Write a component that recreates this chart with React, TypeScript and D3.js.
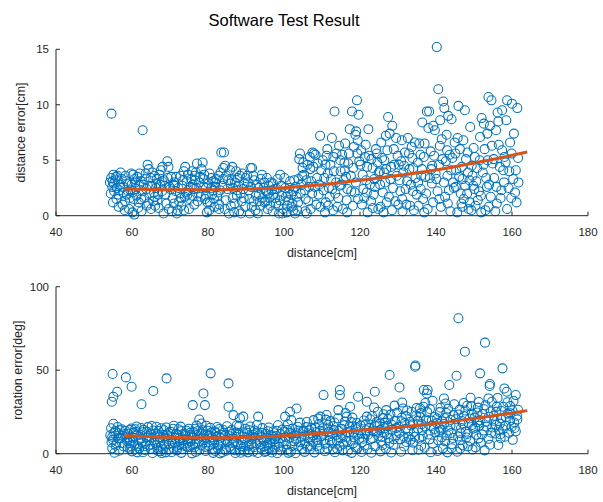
import React from "react";
import * as d3 from "d3";

// distance [cm] vs. distance error [cm]
const distErrPoints: [number, number][] = [
  [54.6,9.2],[54.5,3.4],[55.1,3.7],[54.2,3.0],[54.8,2.6],[55.3,2.2],[54.4,2.0],[55.6,3.2],[56.2,3.6],[56.9,2.8],[55.9,1.5],[56.5,0.8],[57.3,3.3],[57.8,2.1],[55.0,1.2],[56.0,2.5],[57.5,1.0],[54.9,3.1],
  [55.2,2.9],[55.8,3.5],[56.4,1.9],[57.0,3.9],[57.7,2.6],[58.5,3.1],[59.0,2.2],[59.9,2.8],[58.2,1.3],[56.7,2.3],
  [58.3,3.6],[58.9,2.9],[59.4,1.6],[59.8,3.8],[60.3,3.7],[60.1,0.3],[60.6,0.1],[59.2,0.6],[61.0,2.4],[61.4,3.5],[61.8,1.2],[58.6,1.9],[60.9,3.0],[59.6,2.3],[61.6,0.7],[58.1,0.5],[60.4,1.5],
  [60.7,3.3],[61.2,1.8],[61.9,2.8],[62.4,1.5],[63.3,3.3],[63.8,2.4],[64.3,1.1],[64.8,2.7],[62.0,3.8],[60.2,2.1],
  [62.8,7.7],[62.3,3.1],[62.7,2.2],[63.2,1.6],[63.6,3.8],[64.1,4.6],[64.4,4.2],[64.9,3.4],[63.9,0.9],[65.3,2.7],[65.6,1.3],[62.5,0.4],[64.6,2.0],[65.9,3.6],[63.0,2.8],[65.0,0.6],
  [65.4,3.9],[65.8,2.1],[66.4,2.9],[66.9,1.9],[67.4,2.8],[67.9,3.1],[68.6,2.7],[69.4,3.4],[69.7,0.6],[66.0,1.7],
  [66.3,2.5],[66.7,1.4],[67.2,3.7],[67.6,4.1],[68.0,4.4],[68.4,3.2],[68.8,1.9],[69.3,4.9],[69.6,4.4],[69.9,2.6],[67.0,0.7],[68.3,0.2],[66.5,3.3],[69.1,1.1],[67.9,2.2],[66.1,0.9],
  [70.1,2.4],[70.9,2.8],[71.6,3.5],[72.2,2.5],[72.9,1.6],[73.4,3.2],[74.2,2.1],[74.7,3.7],[71.0,1.1],[73.7,0.5],
  [70.3,3.5],[70.7,1.6],[71.1,3.0],[71.5,2.2],[72.0,0.5],[72.4,1.3],[72.8,3.6],[73.2,2.7],[73.6,4.0],[74.0,4.4],[71.8,0.2],[73.0,0.9],[70.5,0.4],[72.6,2.0],[73.9,1.7],[71.3,2.7],
  [75.4,2.6],[75.9,1.8],[76.5,3.6],[77.0,2.5],[77.7,3.0],[78.1,1.7],[78.9,3.3],[79.5,2.5],[79.9,1.2],[75.8,4.0],
  [74.4,3.1],[74.8,2.3],[75.2,1.5],[75.6,3.3],[76.0,2.8],[76.4,1.0],[76.8,3.9],[77.1,4.7],[77.5,2.0],[77.9,3.5],[75.0,0.6],[76.3,2.4],[77.3,1.3],[74.6,1.9],[76.6,3.2],
  [78.3,4.2],[78.6,4.8],[79.0,3.7],[79.4,1.8],[79.7,0.3],[80.1,2.9],[80.5,1.2],[80.9,3.4],[81.3,2.3],[81.7,0.8],[78.8,2.6],[80.3,0.5],[81.9,3.0],[79.2,1.5],[81.1,1.9],
  [80.4,3.8],[80.8,2.5],[81.4,3.1],[82.0,2.6],[82.8,3.6],[83.2,2.3],[84.0,3.3],[84.4,0.6],[85.3,3.2],[81.6,1.5],
  [82.2,3.3],[82.6,2.1],[83.0,1.0],[83.5,5.7],[84.2,5.7],[84.0,4.3],[84.5,4.5],[84.8,3.6],[85.1,2.4],[85.5,0.2],[83.3,3.9],[82.9,0.6],[85.8,4.1],[84.7,1.4],[83.8,2.7],[82.4,1.8],
  [85.9,2.9],[86.5,1.6],[87.1,3.0],[87.7,2.3],[88.4,3.6],[88.9,1.3],[89.3,2.4],[89.9,3.4],[86.0,0.9],[88.7,0.2],
  [86.2,3.2],[86.6,2.5],[87.0,1.1],[87.4,4.0],[87.8,3.4],[88.2,0.4],[88.6,2.0],[89.0,3.8],[89.4,1.6],[89.8,0.8],[86.9,0.3],[88.0,2.7],[86.4,4.4],[89.6,2.9],[87.6,1.8],
  [90.5,3.0],[91.3,2.6],[91.9,3.6],[92.6,1.8],[93.3,2.5],[93.9,3.3],[94.4,1.6],[94.8,3.0],[91.5,0.8],[93.6,1.3],
  [90.3,3.6],[90.7,2.3],[91.2,4.3],[91.6,4.3],[92.0,1.3],[92.5,0.5],[92.9,2.8],[93.4,1.9],[93.8,0.9],[94.2,3.7],[94.6,2.5],[91.0,0.2],[92.2,3.2],[93.1,0.2],[94.9,1.2],[90.9,1.5],
  [95.1,1.3],[95.9,2.0],[96.4,0.9],[97.1,2.9],[97.7,1.6],[98.1,2.4],[98.9,1.4],[99.3,2.7],[99.6,0.2],[96.8,2.3],
  [95.3,2.2],[95.7,0.6],[96.2,1.6],[96.6,3.0],[97.0,0.4],[97.5,2.4],[97.9,1.1],[98.3,3.3],[98.7,0.2],[99.0,3.7],[99.4,1.8],[96.0,2.7],[97.2,1.9],[98.5,0.9],[99.8,0.6],[95.5,3.4],
  [100.5,1.7],[101.4,2.5],[101.9,1.9],[102.7,3.2],[103.0,2.6],[103.7,1.2],[104.4,2.0],[104.8,3.6],[100.1,3.4],[102.4,0.5],
  [100.3,2.5],[100.7,0.3],[101.2,1.4],[101.6,3.1],[102.0,0.8],[102.5,2.2],[102.9,0.2],[103.3,1.7],[103.8,3.3],[104.2,5.6],[104.0,5.1],[104.6,2.8],[101.0,2.0],[102.2,1.1],[103.5,0.5],[104.9,4.3],[100.9,0.9],
  [105.1,4.8],[105.9,3.2],[106.4,1.3],[107.4,2.0],[107.7,4.4],[108.1,2.6],[108.9,4.7],[109.6,0.8],[106.8,5.3],[105.6,0.4],
  [105.3,3.7],[105.7,1.5],[106.2,4.6],[106.6,2.6],[107.0,0.6],[107.5,5.7],[107.9,5.6],[108.3,5.5],[108.7,3.4],[109.1,1.9],[109.5,7.2],[109.8,4.1],[106.0,0.2],[107.2,3.1],[108.5,1.0],[105.5,2.3],[109.3,2.8],[106.9,4.2],
  [110.4,2.3],[110.9,4.6],[111.6,0.9],[112.4,3.3],[113.1,4.0],[113.8,5.6],[114.3,1.6],[114.8,5.0],[111.2,5.4],[112.7,2.4],
  [110.2,5.0],[110.6,3.4],[111.0,1.2],[111.4,6.0],[111.8,2.5],[112.2,4.6],[112.6,7.0],[113.0,5.3],[113.3,9.4],[113.7,3.0],[114.1,0.8],[114.5,6.3],[114.9,4.0],[110.8,0.3],[112.0,1.7],[113.5,2.0],[111.5,3.8],[114.7,2.7],[112.9,0.5],
  [115.1,2.8],[115.9,4.8],[116.3,3.5],[117.1,5.6],[117.7,2.2],[118.2,4.3],[118.9,3.0],[119.5,1.5],[116.6,0.3],[119.3,5.6],
  [115.3,5.5],[115.7,3.2],[116.1,6.5],[116.5,1.4],[116.9,4.7],[117.3,7.8],[117.9,9.4],[118.4,6.2],[118.8,7.3],[119.2,10.4],[119.6,9.1],[119.0,7.6],[119.4,6.8],[115.5,0.6],[116.7,2.4],[117.6,3.6],[118.1,0.9],[119.8,4.9],[116.0,4.1],[118.6,2.1],
  [120.1,4.6],[120.5,1.0],[121.6,3.2],[122.4,5.4],[122.9,1.3],[123.3,4.3],[123.9,2.6],[124.4,5.6],[121.8,2.1],[124.8,0.6],
  [120.3,5.9],[120.7,3.7],[121.1,1.6],[121.5,6.4],[121.9,4.4],[122.2,7.8],[122.6,2.8],[123.0,5.1],[123.4,0.7],[123.8,3.3],[124.2,6.0],[124.6,4.8],[120.9,2.4],[122.0,0.3],[123.6,1.9],[124.9,3.9],[121.3,5.3],
  [125.3,2.8],[125.8,5.2],[126.3,3.9],[127.0,1.2],[127.2,5.9],[128.0,3.3],[128.4,0.5],[129.0,4.6],[129.5,7.0],[126.9,4.2],
  [125.2,4.0],[125.6,6.6],[126.0,2.1],[126.4,5.0],[126.8,7.2],[127.4,8.9],[127.8,7.4],[128.2,4.4],[128.5,8.1],[128.9,6.0],[129.3,1.3],[129.7,3.6],[125.4,0.8],[126.6,3.0],[127.6,1.7],[128.7,2.5],[129.9,5.4],[126.2,0.3],
  [130.4,3.2],[131.1,1.5],[131.6,4.5],[132.0,2.4],[132.9,5.6],[133.2,0.9],[134.0,4.3],[134.4,6.6],[130.1,1.0],[133.9,2.2],
  [130.2,4.6],[130.6,2.2],[131.0,6.8],[131.4,3.9],[131.8,5.7],[132.2,1.0],[132.6,7.0],[133.0,4.2],[133.4,2.8],[133.8,5.2],[134.2,0.5],[134.6,3.4],[131.2,0.4],[132.4,3.1],[133.6,6.2],[134.9,1.9],[130.8,4.9],
  [135.3,3.0],[135.9,5.5],[136.3,4.2],[137.0,6.5],[137.4,2.0],[138.4,3.4],[138.8,4.2],[139.2,1.2],[139.9,3.8],[136.9,0.3],
  [135.2,4.8],[135.6,6.5],[136.0,2.4],[136.4,8.4],[136.8,5.3],[137.2,3.5],[137.6,9.4],[138.0,7.9],[138.2,9.4],[138.6,5.8],[139.0,4.5],[139.3,8.1],[139.7,7.7],[135.4,0.9],[136.6,1.5],[137.8,0.6],[138.9,2.9],[139.5,5.4],[136.1,3.6],
  [140.1,3.3],[140.9,1.5],[141.7,5.1],[142.1,3.0],[142.8,7.3],[143.4,2.3],[144.0,4.1],[144.3,5.2],[141.1,8.6],[143.1,1.1],
  [140.2,15.2],[140.6,11.4],[141.0,6.3],[141.5,6.9],[141.9,10.3],[142.2,9.7],[142.6,4.9],[143.0,3.6],[143.2,9.0],[143.6,5.5],[144.1,8.7],[144.5,3.0],[144.9,6.6],[140.4,2.2],[141.3,0.8],[142.4,1.7],[143.8,0.4],[144.7,2.5],[140.8,4.6],[142.9,5.9],
  [145.2,2.6],[145.7,7.0],[146.1,3.5],[146.8,4.4],[147.2,6.8],[147.7,2.7],[148.3,5.7],[148.8,3.2],[149.3,0.5],[149.9,6.1],
  [145.3,4.1],[145.9,9.9],[146.3,6.0],[146.7,1.1],[147.0,3.3],[147.6,9.5],[147.9,5.1],[148.2,2.0],[148.6,0.6],[149.0,8.0],[149.4,4.5],[149.8,2.7],[145.6,0.3],[146.5,2.0],[147.3,1.5],[148.9,1.2],[149.6,3.6],[145.1,5.6],[146.9,0.8],[148.4,3.9],
  [150.1,2.4],[150.8,4.3],[151.5,5.0],[151.8,1.8],[152.5,4.6],[153.2,3.4],[153.5,7.4],[154.0,2.8],[154.7,6.3],[153.9,0.8],
  [150.2,5.3],[150.6,3.1],[151.0,1.4],[151.6,7.1],[152.0,8.8],[152.3,3.9],[152.6,8.3],[153.0,0.5],[153.4,2.6],[153.8,10.7],[154.2,8.1],[154.6,10.4],[154.9,4.7],[150.4,0.9],[151.3,2.2],[152.8,6.0],[153.6,5.0],[154.4,1.7],[151.9,0.3],
  [155.2,5.1],[155.9,2.6],[156.5,6.4],[157.0,1.6],[157.7,4.1],[158.5,8.6],[159.3,4.0],[159.9,5.6],[160.5,7.4],[161.2,1.2],[161.6,5.2],[156.2,9.3],
  [155.3,3.4],[155.8,7.7],[156.4,8.5],[156.8,4.4],[157.2,2.3],[157.4,9.5],[157.4,5.9],[157.9,3.0],[158.3,4.8],[158.7,10.4],[158.7,0.6],[159.1,2.5],[159.5,6.6],[160.0,10.1],[160.3,3.3],[160.8,2.1],[161.4,9.7],[161.7,3.0],[156.0,1.1],[158.0,5.3],[159.8,1.6],[155.6,0.4],[161.0,4.1],
];

// distance [cm] vs. rotation error [deg]
const rotErrPoints: [number, number][] = [
  [54.9,47.7],[56.1,37.1],[55.1,34.1],[54.7,31.1],[55.1,17.9],[54.5,15.2],[55.6,13.5],[54.3,11.0],[55.0,8.4],[55.9,6.1],[54.8,3.2],[55.4,0.6],[56.4,12.2],[56.9,9.3],[57.3,14.6],[57.8,4.4],[56.6,1.8],[57.6,10.7],[54.6,6.9],[56.2,16.0],
  [54.8,10.1],[55.3,12.4],[55.7,4.8],[56.3,9.2],[56.8,14.0],[57.4,6.3],[58.0,11.6],[58.8,9.9],[59.4,14.2],[59.7,4.6],
  [58.4,45.7],[59.9,40.1],[58.2,13.8],[58.7,7.5],[59.1,11.9],[59.5,2.9],[59.8,15.1],[60.2,9.6],[60.6,5.3],[61.0,13.0],[61.4,0.8],[61.8,8.2],[58.9,3.7],[60.4,12.6],[61.2,16.3],[59.3,6.4],[61.6,4.5],[60.0,1.4],
  [60.3,7.1],[60.8,14.7],[61.3,10.9],[61.9,3.2],[62.3,9.0],[62.8,12.8],[63.3,4.5],[63.9,13.1],[64.5,7.9],[65.1,9.5],
  [62.5,29.6],[65.6,37.6],[62.2,11.4],[62.6,6.8],[63.0,14.3],[63.4,2.2],[63.8,9.7],[64.2,15.9],[64.6,4.9],[65.0,12.1],[65.4,0.4],[65.8,7.6],[62.9,0.9],[63.6,5.8],[64.4,10.5],[65.2,16.6],[62.4,15.4],[64.9,2.9],
  [65.6,13.9],[66.1,6.5],[66.7,11.9],[67.2,9.8],[67.7,15.2],[68.1,3.0],[68.7,9.5],[69.2,11.5],[69.7,5.8],[67.5,1.4],
  [69.1,45.1],[66.2,10.3],[66.6,3.5],[67.0,13.6],[67.4,7.1],[67.8,0.3],[68.2,11.2],[68.6,5.4],[69.0,15.7],[69.4,8.8],[69.8,2.6],[66.4,16.1],[67.6,4.2],[68.4,14.0],[69.6,12.4],[66.9,1.5],[68.9,0.8],
  [70.3,9.8],[70.8,14.9],[71.3,6.3],[71.9,11.2],[72.5,9.3],[73.1,13.6],[73.5,6.1],[74.1,11.7],[74.5,8.3],[72.0,3.7],
  [70.2,13.1],[70.6,6.2],[71.0,16.7],[71.4,9.4],[71.8,2.0],[72.2,14.6],[72.6,7.9],[73.0,0.5],[73.4,11.8],[73.8,4.6],[70.4,0.9],[71.6,12.0],[72.8,16.2],[73.6,8.5],[70.9,3.4],[72.4,5.1],[73.2,2.8],
  [75.3,12.6],[75.9,9.6],[76.4,3.8],[77.1,11.1],[77.6,6.6],[78.2,12.0],[78.7,9.7],[79.3,4.1],[79.9,13.8],[76.7,15.0],
  [76.0,29.1],[77.7,20.5],[74.2,10.6],[74.6,3.9],[75.0,15.0],[75.4,7.3],[75.8,0.2],[76.2,12.9],[76.6,5.7],[77.0,16.8],[77.4,9.0],[77.8,2.4],[74.4,13.7],[75.6,11.0],[76.8,1.1],[77.2,13.5],[74.8,6.6],[75.2,4.1],
  [80.3,10.6],[80.9,12.7],[81.5,8.6],[82.1,12.4],[82.7,5.4],[83.3,9.5],[83.9,14.3],[84.5,10.9],[85.1,7.2],[81.9,1.6],
  [80.7,48.1],[78.8,36.1],[79.2,29.1],[78.3,18.1],[78.6,14.1],[79.0,8.0],[79.4,1.6],[79.8,11.5],[80.2,4.8],[80.6,15.5],[81.0,9.9],[81.4,0.5],[81.8,13.3],[78.4,5.2],[79.6,16.7],[80.4,7.0],[81.2,3.0],[78.9,11.0],[81.6,6.3],
  [85.7,10.4],[86.3,11.8],[86.9,7.0],[87.5,10.0],[88.1,12.4],[88.7,4.5],[89.2,12.9],[89.7,8.4],[86.1,2.9],[88.3,1.9],
  [85.4,42.1],[85.4,28.1],[82.2,10.2],[82.6,3.3],[83.0,14.8],[83.4,6.7],[83.8,0.9],[84.2,12.5],[84.6,8.3],[85.0,16.4],[85.8,4.0],[82.4,16.0],[83.6,11.4],[84.8,1.8],[85.6,13.1],[82.9,7.8],[84.4,2.7],[83.2,0.2],
  [90.4,9.7],[90.9,14.1],[91.4,5.8],[91.9,11.4],[92.5,9.6],[93.0,12.7],[93.7,7.0],[94.2,12.6],[94.8,4.4],[92.1,3.9],
  [86.7,23.1],[88.4,21.2],[89.3,22.2],[86.2,14.2],[86.6,9.1],[87.0,2.1],[87.4,12.7],[87.8,5.8],[88.2,16.5],[88.6,0.6],[89.0,10.3],[89.4,4.1],[89.8,15.0],[86.4,6.4],[87.6,17.0],[88.8,8.1],[89.6,1.7],[87.2,0.4],
  [95.3,9.6],[95.8,13.4],[96.3,6.5],[96.9,10.3],[97.5,8.7],[98.1,13.8],[98.6,4.2],[99.1,11.8],[99.7,7.5],[97.0,2.2],
  [93.2,22.2],[90.3,12.6],[90.7,4.7],[91.1,16.3],[91.5,8.6],[91.9,1.3],[92.3,13.9],[92.7,6.2],[93.1,0.4],[93.5,11.1],[93.9,3.5],[94.3,15.3],[94.7,7.7],[90.5,0.8],[91.7,10.2],[92.9,17.3],[94.1,9.8],[90.9,2.4],[94.9,1.1],
  [95.2,12.0],[95.6,5.1],[96.0,15.7],[96.4,8.9],[96.8,0.7],[97.2,13.4],[97.6,3.7],[98.0,10.6],[98.4,17.0],[98.8,6.3],[99.2,1.9],[99.6,14.5],[95.4,1.5],[96.6,11.2],[97.8,7.2],[99.0,9.2],[98.2,0.3],[95.9,3.2],
  [100.4,9.9],[100.9,14.2],[101.5,12.5],[102.1,4.5],[102.7,10.8],[103.2,8.5],[103.8,13.9],[104.3,6.8],[104.9,13.2],[101.9,20.1],
  [100.3,22.2],[101.6,25.1],[103.3,27.1],[100.2,13.0],[100.6,5.6],[101.0,17.6],[101.4,9.5],[101.8,1.2],[102.2,14.9],[102.6,7.4],[103.0,0.3],[103.4,12.2],[103.8,4.3],[104.2,18.6],[104.6,10.1],[100.8,2.3],[102.0,11.6],[103.6,16.1],[104.8,2.9],[101.2,0.5],
  [105.3,10.3],[105.9,15.9],[106.5,12.1],[107.1,4.6],[107.7,11.0],[108.3,15.6],[108.9,6.7],[109.5,13.7],[106.9,8.8],[109.0,21.0],
  [109.6,22.2],[105.2,13.6],[105.6,6.1],[106.0,19.0],[106.4,9.8],[106.8,2.7],[107.2,15.5],[107.6,7.0],[108.0,0.8],[108.4,12.8],[108.8,4.6],[109.2,17.8],[109.8,10.4],[105.4,1.1],[106.6,14.0],[107.8,20.1],[108.6,8.3],[109.4,3.0],[106.2,4.2],
  [110.3,11.9],[110.9,5.9],[111.5,14.6],[112.1,8.0],[112.7,12.2],[113.3,18.7],[113.9,7.8],[114.5,13.6],[111.2,23.2],[114.0,2.9],
  [110.4,35.1],[114.7,38.1],[114.7,35.1],[114.3,26.1],[110.2,15.2],[110.6,8.2],[111.0,20.4],[111.4,3.3],[111.8,13.1],[112.2,19.5],[112.6,6.5],[113.0,16.4],[113.4,0.9],[113.8,11.3],[114.2,21.2],[114.6,4.8],[110.8,1.5],[112.0,10.5],[113.2,14.2],[111.6,17.3],[112.9,2.6],[114.9,9.2],
  [115.3,11.1],[115.9,17.0],[116.5,7.6],[117.1,12.9],[117.7,18.9],[118.3,9.8],[118.9,15.9],[119.5,11.8],[116.2,24.3],[119.3,3.3],
  [117.4,28.1],[116.5,22.2],[119.5,34.1],[115.2,14.9],[115.6,5.7],[116.0,19.2],[116.4,10.0],[116.8,1.6],[117.2,16.2],[117.6,7.8],[118.0,21.6],[118.4,12.4],[118.8,3.9],[119.2,18.4],[119.8,9.0],[115.4,2.0],[116.6,13.0],[117.8,0.5],[119.0,14.7],[118.2,6.2],
  [120.3,12.3],[120.9,9.0],[121.5,17.6],[122.1,11.4],[122.7,20.6],[123.3,9.3],[123.9,16.9],[124.5,13.1],[121.2,4.9],[123.7,27.7],
  [123.9,37.1],[121.8,31.1],[121.8,22.2],[124.7,25.1],[120.2,16.8],[120.6,6.9],[121.0,19.9],[121.4,11.6],[122.0,2.8],[122.4,15.3],[122.8,8.7],[123.2,22.6],[123.6,13.4],[124.0,4.4],[124.4,19.0],[124.8,10.5],[120.4,1.0],[121.6,14.1],[123.0,0.6],[124.6,16.4],
  [125.3,14.2],[125.9,5.1],[126.5,18.6],[127.1,12.0],[127.7,6.4],[128.3,17.5],[128.9,8.6],[129.5,15.3],[126.2,23.6],[129.1,28.8],
  [127.8,47.1],[126.9,26.1],[125.2,18.0],[125.6,7.5],[126.0,21.3],[126.4,12.6],[126.8,3.0],[127.2,16.5],[127.6,9.3],[128.0,23.4],[128.4,14.3],[128.8,5.2],[129.2,19.7],[129.6,11.0],[125.4,1.4],[126.6,15.2],[128.2,0.7],[129.8,24.6],[127.4,20.8],[125.9,10.0],
  [130.3,12.4],[130.9,19.4],[131.5,10.3],[132.1,22.5],[132.7,13.8],[133.3,8.3],[133.9,17.6],[134.5,10.1],[131.1,30.6],[134.9,27.4],
  [130.4,39.7],[134.6,52.8],[131.3,27.1],[133.6,25.1],[134.5,52.1],[130.2,16.1],[130.6,8.6],[131.0,21.5],[131.6,4.3],[132.0,14.8],[132.4,25.9],[132.8,10.1],[133.2,19.0],[133.8,2.1],[134.2,13.0],[134.8,22.9],[130.8,1.2],[132.2,7.0],[133.4,16.9],[131.8,18.4],[134.0,6.6],
  [135.3,14.9],[135.9,21.8],[136.5,10.5],[137.1,16.3],[137.7,24.9],[138.3,8.6],[138.9,19.8],[139.5,14.7],[136.1,4.8],[139.1,31.7],
  [136.8,38.1],[137.8,38.1],[137.6,36.1],[136.7,28.1],[135.2,19.8],[135.6,9.0],[136.0,24.3],[136.4,14.0],[137.0,3.6],[137.4,20.5],[138.0,11.5],[138.4,26.8],[138.8,16.6],[139.2,6.1],[139.6,22.0],[135.4,2.4],[136.2,17.7],[137.2,30.3],[138.6,0.9],[139.8,12.7],[135.8,27.2],
  [140.3,21.1],[140.9,15.5],[141.5,9.8],[142.1,17.8],[142.7,24.4],[143.3,13.9],[143.9,20.2],[144.5,9.4],[141.2,27.5],[144.1,3.3],
  [142.1,33.1],[142.5,30.1],[143.5,41.1],[140.2,18.3],[140.6,8.0],[141.0,24.9],[141.4,14.1],[141.8,3.2],[142.2,21.4],[142.8,11.0],[143.2,27.0],[143.8,16.7],[144.2,5.8],[144.6,23.1],[140.4,1.6],[141.6,19.3],[143.0,0.8],[144.0,12.4],[144.8,29.6],[140.8,12.9],[142.4,7.4],
  [145.3,16.9],[145.9,23.5],[146.5,12.2],[147.1,18.0],[147.7,25.9],[148.3,11.8],[148.9,21.1],[149.5,17.2],[146.3,8.1],[149.2,28.5],
  [145.9,81.1],[147.6,61.1],[145.4,46.7],[149.1,33.5],[147.3,30.3],[145.6,1.2],[145.2,20.6],[145.8,10.3],[146.2,26.4],[146.6,15.4],[147.0,5.0],[147.4,22.5],[147.8,13.2],[148.2,28.7],[148.6,18.2],[149.0,7.6],[149.4,24.0],[149.8,14.9],[146.4,3.1],[148.0,9.7],[149.6,2.6],[146.8,19.6],[148.4,4.4],
  [150.3,15.6],[150.9,24.7],[151.5,20.0],[152.1,11.5],[152.7,26.6],[153.3,16.2],[153.9,22.1],[154.5,12.6],[151.3,31.0],[154.2,5.4],
  [152.9,66.5],[151.6,48.1],[154.1,40.5],[154.2,41.7],[153.8,33.1],[154.7,31.1],[150.2,21.6],[150.6,11.3],[151.0,27.6],[151.4,16.8],[151.8,6.6],[152.2,23.8],[152.6,13.9],[153.0,29.0],[153.4,19.3],[153.8,8.9],[154.4,25.3],[150.4,3.8],[151.2,9.2],[152.8,2.0],[154.8,15.7],[150.8,18.8],
  [155.3,19.7],[155.9,25.2],[156.5,14.3],[157.1,21.2],[157.7,28.1],[158.3,16.8],[158.9,23.9],[159.5,19.7],[160.1,25.9],[160.7,15.4],[161.3,22.7],[156.9,11.7],
  [157.5,51.1],[158.0,39.1],[158.6,37.1],[161.0,35.1],[159.5,28.5],[161.4,20.5],[159.9,16.1],[158.1,10.2],[156.4,5.2],[155.2,22.7],[155.6,12.1],[156.0,28.2],[156.8,18.0],[157.2,25.6],[157.6,14.6],[158.4,21.9],[158.8,30.8],[159.2,12.5],[159.6,24.2],[160.2,8.3],[160.6,18.7],[161.0,13.4],[161.6,26.3],[155.8,17.2],[157.0,9.3],[160.4,31.6],[156.2,33.4],
];

// fitted trend curves (distance, error)
const distErrFit: [number, number][] = [
  [58,2.40],[70,2.33],[80,2.33],[90,2.40],[100,2.52],[110,2.78],[120,3.2],[130,3.62],[140,4.12],[150,4.75],[160,5.45],[164,5.75],
];
const rotErrFit: [number, number][] = [
  [58,10.8],[70,9.8],[80,9.5],[90,9.8],[100,10.8],[110,12.2],[120,14],[130,15.8],[140,18.2],[150,21],[160,24.4],[164,25.8],
];

const xTicks = [40, 60, 80, 100, 120, 140, 160, 180];
const distErrTicks = [0, 5, 10, 15];
const rotErrTicks = [0, 50, 100];

const W = 603;
const H = 502;
const AXIS = "#262626";
const BLUE = "#0072BD";
const ORANGE = "#D95319";
const FONT = "'Liberation Sans', Arial, Helvetica, sans-serif";

type PanelProps = {
  points: [number, number][];
  fit: [number, number][];
  yMax: number;
  yTicks: number[];
  top: number;
  bottom: number;
  yLabel: string;
  yLabelX: number;
};

const x = d3.scaleLinear().domain([40, 180]).range([56, 588]);

function Panel({ points, fit, yMax, yTicks, top, bottom, yLabel, yLabelX }: PanelProps) {
  const y = d3.scaleLinear().domain([0, yMax]).range([bottom, top]);
  const line = d3
    .line<[number, number]>()
    .x((d) => x(d[0]))
    .y((d) => y(d[1]))
    .curve(d3.curveMonotoneX);
  const [x0, x1] = x.range();
  return (
    <g>
      {points.map((p, i) => (
        <circle key={i} cx={x(p[0])} cy={y(p[1])} r={4.5} fill="none" stroke={BLUE} strokeWidth={1.05} />
      ))}
      <path d={line(fit) || ""} fill="none" stroke={ORANGE} strokeWidth={3} strokeLinecap="butt" />
      {/* axes */}
      <line x1={x0} x2={x1} y1={bottom} y2={bottom} stroke={AXIS} strokeWidth={1} />
      <line x1={x0} x2={x0} y1={top} y2={bottom} stroke={AXIS} strokeWidth={1} />
      {xTicks.map((t) => (
        <g key={"x" + t}>
          <line x1={x(t)} x2={x(t)} y1={bottom} y2={bottom - 4} stroke={AXIS} strokeWidth={1} />
          <text x={x(t)} y={bottom + 20} textAnchor="middle" fontSize={11.5} fill={AXIS} fontFamily={FONT}>
            {t}
          </text>
        </g>
      ))}
      {yTicks.map((t) => (
        <g key={"y" + t}>
          <line x1={x0} x2={x0 + 4} y1={y(t)} y2={y(t)} stroke={AXIS} strokeWidth={1} />
          <text x={x0 - 7} y={y(t) + 4} textAnchor="end" fontSize={11.5} fill={AXIS} fontFamily={FONT}>
            {t}
          </text>
        </g>
      ))}
      <text x={(x0 + x1) / 2} y={bottom + 41} textAnchor="middle" fontSize={12.5} fill={AXIS} fontFamily={FONT}>
        distance[cm]
      </text>
      <text
        transform={`translate(${yLabelX},${(top + bottom) / 2}) rotate(-90)`}
        textAnchor="middle"
        fontSize={12.5}
        fill={AXIS}
        fontFamily={FONT}
      >
        {yLabel}
      </text>
    </g>
  );
}

export default function App() {
  return (
    <div style={{ position: "fixed", left: 0, top: 0, width: W, height: H, background: "#fff" }}>
      <svg width={W} height={H} style={{ display: "block" }}>
        <rect width={W} height={H} fill="#fff" />
        <text x={284} y={26} textAnchor="middle" fontSize={16.5} fill="#000" fontFamily={FONT}>
          Software Test Result
        </text>
        <Panel
          points={distErrPoints}
          fit={distErrFit}
          yMax={15}
          yTicks={distErrTicks}
          top={49.3}
          bottom={215.7}
          yLabel="distance error[cm]"
          yLabelX={25}
        />
        <Panel
          points={rotErrPoints}
          fit={rotErrFit}
          yMax={100}
          yTicks={rotErrTicks}
          top={286.7}
          bottom={453.7}
          yLabel="rotation error[deg]"
          yLabelX={22}
        />
      </svg>
    </div>
  );
}
